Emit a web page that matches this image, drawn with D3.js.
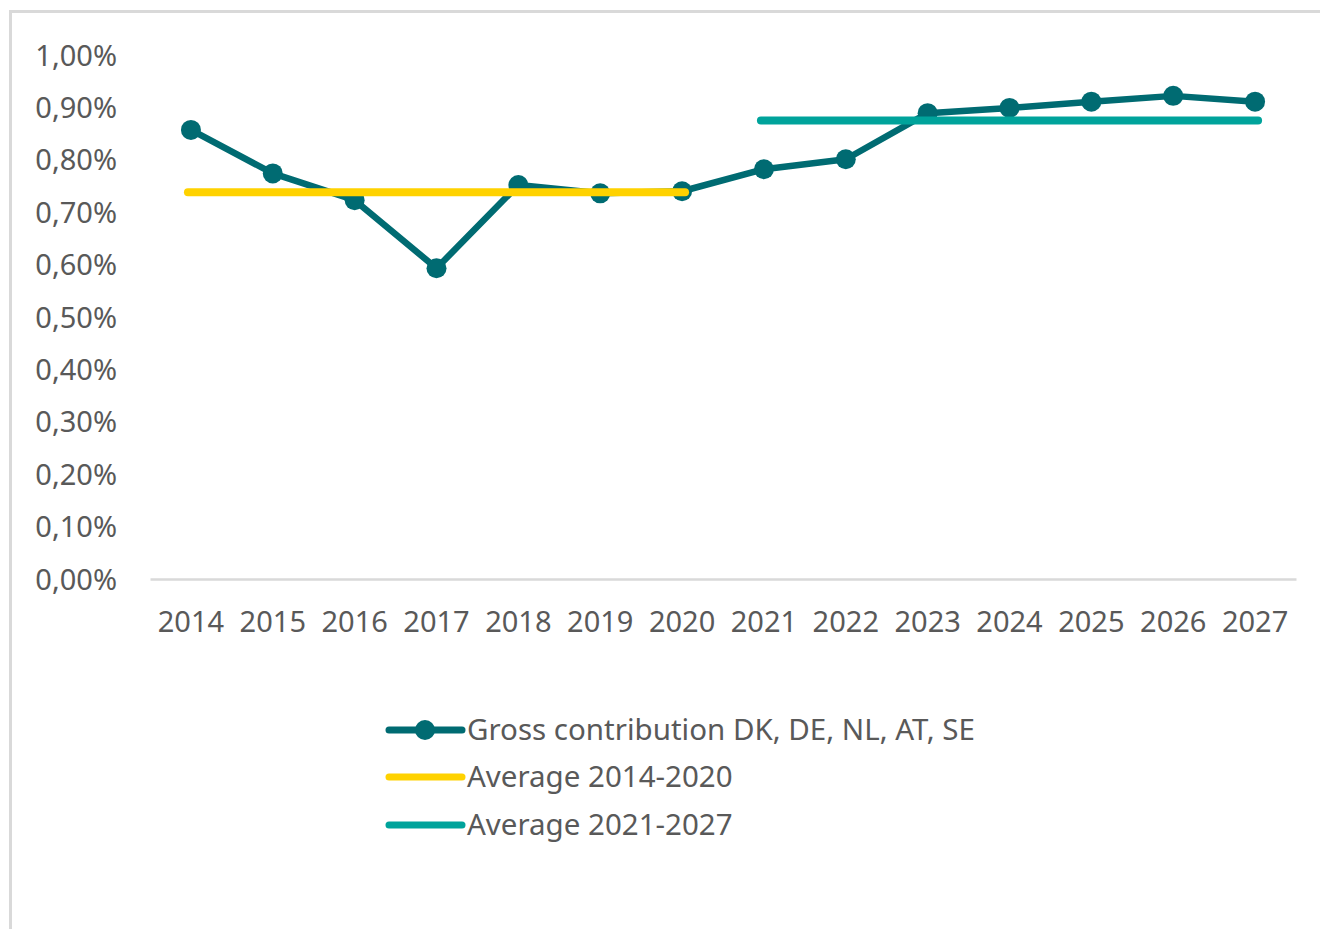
<!DOCTYPE html>
<html><head><meta charset="utf-8">
<script src="https://cdn.jsdelivr.net/npm/d3@7"></script>
<style>html,body{margin:0;padding:0;background:#fff;}svg{display:block;}</style>
</head><body>
<svg id="chart" width="1320" height="929"></svg>
<script>
const years = [2014,2015,2016,2017,2018,2019,2020,2021,2022,2023,2024,2025,2026,2027];
const gross = [0.857,0.774,0.723,0.593,0.752,0.736,0.740,0.782,0.801,0.889,0.899,0.911,0.922,0.911];
const avgPeriod1 = {from:2014, to:2020, value:0.738};
const avgPeriod2 = {from:2021, to:2027, value:0.875};
const yTicks = [0,0.1,0.2,0.3,0.4,0.5,0.6,0.7,0.8,0.9,1.0];
const seriesNames = ["Gross contribution DK, DE, NL, AT, SE","Average 2014-2020","Average 2021-2027"];
const colors = ["#006b72","#ffd200","#00a39b"];

const svg = d3.select("#chart");
const font = "'Noto Sans', sans-serif";
const textCol = "#595959";

// outer border
svg.append("rect").attr("x",10.5).attr("y",11.5).attr("width",1400).attr("height",1000)
  .attr("fill","none").attr("stroke","#d9d9d9").attr("stroke-width",3);

const x = d3.scaleBand().domain(years).range([150,1296]).padding(0);
const y = d3.scaleLinear().domain([0,1]).range([579,55]);
const cx = d => x(d) + x.bandwidth()/2;

// y axis labels
const yAxis = d3.axisLeft(y).tickValues(yTicks).tickSize(0).tickPadding(0)
  .tickFormat(d => d3.format(".2f")(d).replace(".",",") + "%");
const yg = svg.append("g").attr("transform","translate(117,0)").call(yAxis);
yg.select(".domain").remove();
yg.selectAll("text").attr("font-family",font).attr("font-size",29).attr("fill",textCol).attr("dy","0.35em");

// x axis
const xAxis = d3.axisBottom(x).tickSize(0).tickPadding(30);
const xg = svg.append("g").attr("transform","translate(0,579)").call(xAxis);
xg.select(".domain").attr("stroke","#d9d9d9").attr("stroke-width",2.5);
xg.selectAll("text").attr("font-family",font).attr("font-size",29).attr("fill",textCol).attr("dy","0.35em")
  .attr("y", 43);

// series line
const line = d3.line().x((d,i)=>cx(years[i])).y(d=>y(d));
svg.append("path").datum(gross).attr("d",line).attr("fill","none")
  .attr("stroke",colors[0]).attr("stroke-width",6.5).attr("stroke-linejoin","round");
svg.selectAll("circle.pt").data(gross).join("circle").attr("class","pt")
  .attr("cx",(d,i)=>cx(years[i])).attr("cy",d=>y(d)).attr("r",10).attr("fill",colors[0]);

// average lines (drawn on top)
[avgPeriod1, avgPeriod2].forEach((a,i) => {
  svg.append("line").attr("x1",cx(a.from)-3).attr("x2",cx(a.to)+3)
    .attr("y1",y(a.value)).attr("y2",y(a.value))
    .attr("stroke",colors[i+1]).attr("stroke-width",8).attr("stroke-linecap","round");
});

// legend
const legY = [730,777,825];
seriesNames.forEach((n,i) => {
  const g = svg.append("g");
  g.append("line").attr("x1",389).attr("x2",462).attr("y1",legY[i]).attr("y2",legY[i])
    .attr("stroke",colors[i]).attr("stroke-width",7).attr("stroke-linecap","round");
  if (i===0) g.append("circle").attr("cx",425).attr("cy",legY[i]).attr("r",10).attr("fill",colors[0]);
  g.append("text").attr("x",467).attr("y",legY[i]).attr("dy","0.35em").text(n)
    .attr("font-family",font).attr("font-size",29.5).attr("fill",textCol);
});
</script>
</body></html>
